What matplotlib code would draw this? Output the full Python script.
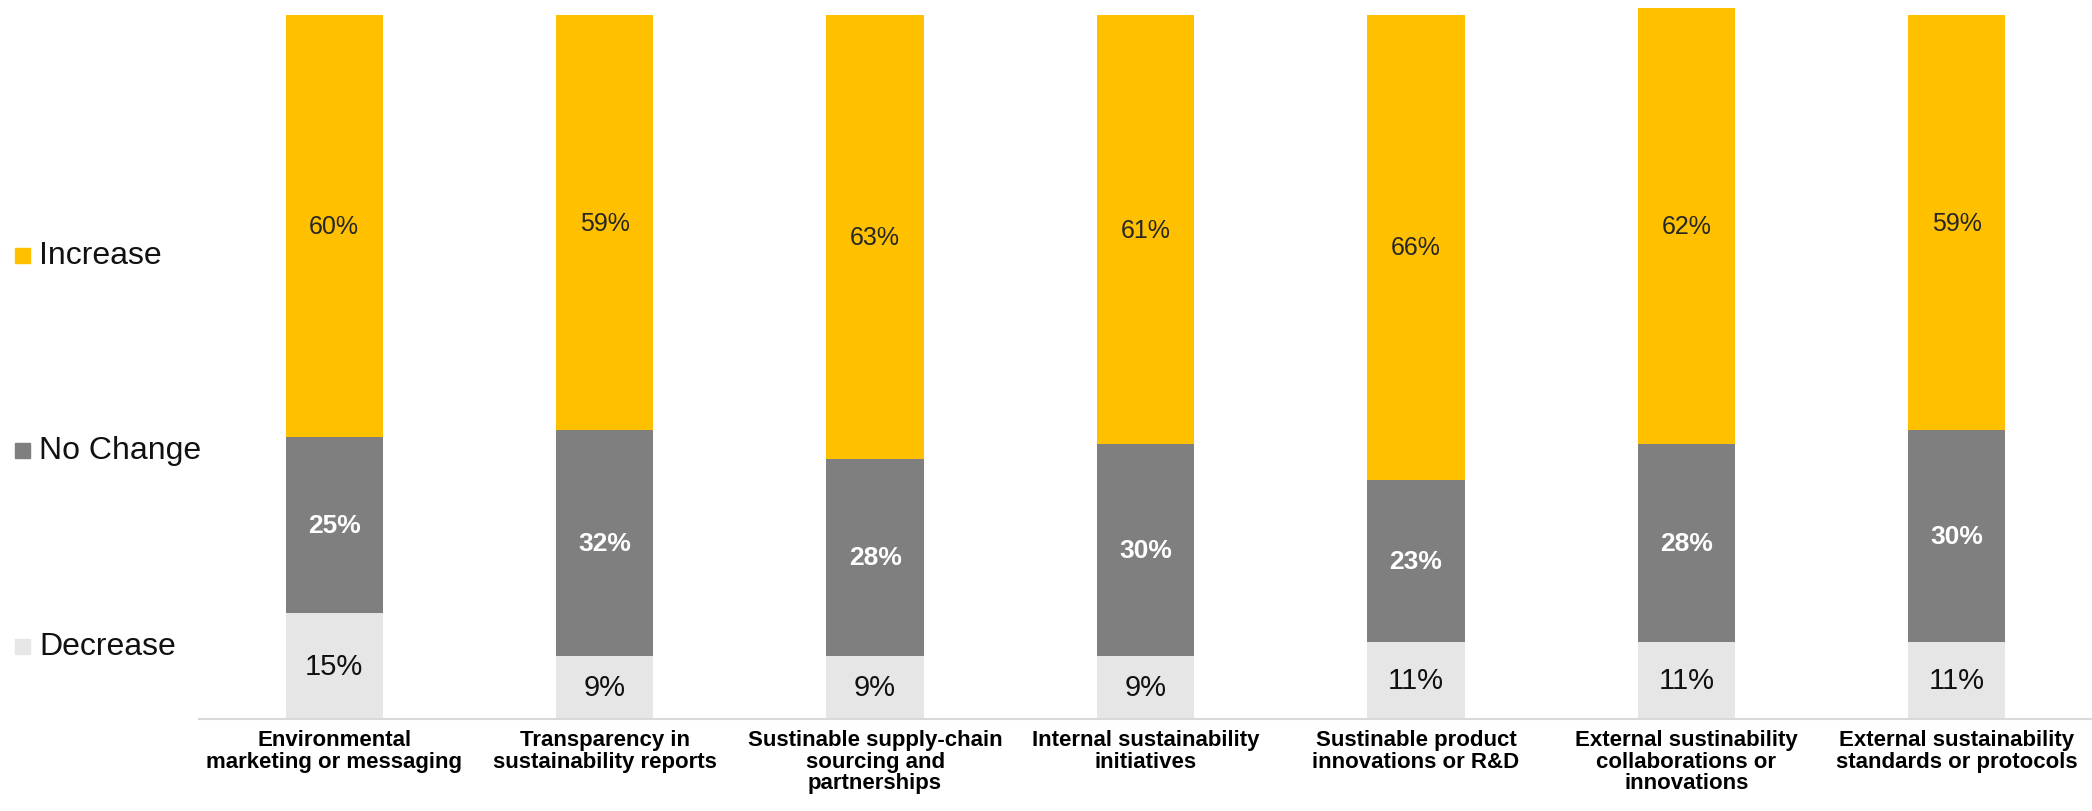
import matplotlib
matplotlib.use("Agg")
import matplotlib.pyplot as plt
from matplotlib.patches import Rectangle

plt.rcParams['font.family'] = ['Liberation Sans', 'DejaVu Sans']

categories = [
    "Environmental\nmarketing or messaging",
    "Transparency in\nsustainability reports",
    "Sustinable supply-chain\nsourcing and\npartnerships",
    "Internal sustainability\ninitiatives",
    "Sustinable product\ninnovations or R&D",
    "External sustinability\ncollaborations or\ninnovations",
    "External sustainability\nstandards or protocols",
]
decrease = [15, 9, 9, 9, 11, 11, 11]
no_change = [25, 32, 28, 30, 23, 28, 30]
increase = [60, 59, 63, 61, 66, 62, 59]
series_names = ["Increase", "No Change", "Decrease"]

c_inc = "#FFC000"
c_nc = "#7F7F7F"
c_dec = "#E7E6E6"

W, H = 2092, 812
fig = plt.figure(figsize=(W / 100, H / 100), dpi=100)
ax = fig.add_axes([199 / W, 92 / H, 1893 / W, 718 / H])

x = list(range(len(categories)))
bw = 0.36
ax.bar(x, decrease, width=bw, color=c_dec)
bot2 = decrease
ax.bar(x, no_change, width=bw, bottom=bot2, color=c_nc)
bot3 = [d + n for d, n in zip(decrease, no_change)]
ax.bar(x, increase, width=bw, bottom=bot3, color=c_inc)

for i in x:
    ax.text(i, decrease[i] / 2, f"{decrease[i]}%", ha="center", va="center",
            fontsize=21, color="#111111")
    ax.text(i, bot2[i] + no_change[i] / 2, f"{no_change[i]}%", ha="center", va="center",
            fontsize=19, color="white", fontweight="bold")
    ax.text(i, bot3[i] + increase[i] / 2, f"{increase[i]}%", ha="center", va="center",
            fontsize=18, color="#262626")

ax.set_xlim(-0.5, len(categories) - 0.5)
ax.set_ylim(0, 102)
ax.set_yticks([])
ax.set_xticks(x)
ax.set_xticklabels(categories, fontsize=16, fontweight="bold", linespacing=1.05)
ax.tick_params(axis="x", length=0, pad=7)
for s in ["top", "right", "left"]:
    ax.spines[s].set_visible(False)
ax.spines["bottom"].set_color("#D9D9D9")
ax.spines["bottom"].set_linewidth(1.5)

# legend
leg_y = [256, 451, 647]
leg_c = [c_inc, c_nc, c_dec]
for name, yy, cc in zip(series_names, leg_y, leg_c):
    fy = 1 - yy / H
    fig.patches.append(Rectangle((15 / W, fy - 7.5 / H), 15 / W, 15 / H,
                                 transform=fig.transFigure, color=cc))
    fig.text(39 / W, fy, name, fontsize=23, va="center", ha="left", color="#111111")

fig.savefig("out.png", dpi=100)
